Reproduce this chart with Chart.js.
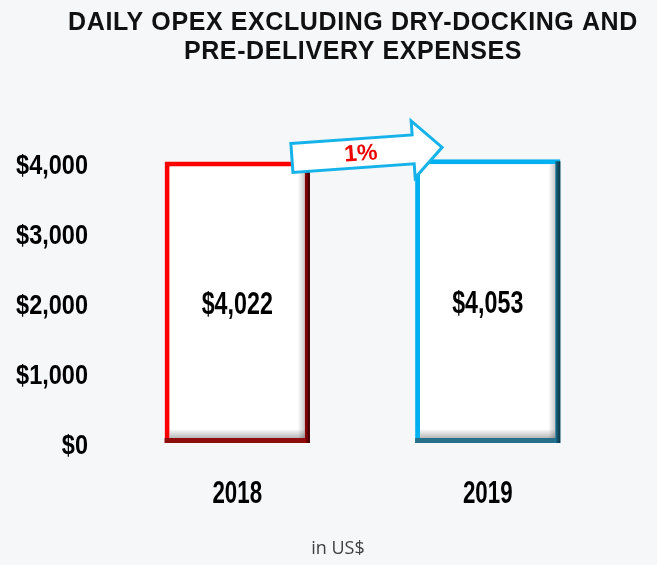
<!DOCTYPE html>
<html>
<head>
<meta charset="utf-8">
<script src="https://cdn.jsdelivr.net/npm/chart.js@4"></script>
<style>
  html, body { margin: 0; padding: 0; background: #f6f7f9; }
  #wrap { width: 657px; height: 565px; }
</style>
</head>
<body>
<div id="wrap"><canvas id="c" width="657" height="565"></canvas></div>
<script>
// ---- data ----
const titleLines = ['DAILY OPEX EXCLUDING DRY-DOCKING AND', 'PRE-DELIVERY EXPENSES'];
const categories = ['2018', '2019'];
const opexValues = [4022, 4053];
const yTickValues = [0, 1000, 2000, 3000, 4000];
const changeLabel = '1%';
const unitNote = 'in US$';

// ---- styles ----
const BOLD = "'Liberation Sans', Arial, sans-serif";
const barBorder = ['#ff0000', '#00b0f0'];
const barDarkRight = [['#9a0000', '#300000'], ['#1a6a88', '#0b3142']];
const barDarkBottom = ['#8e0c0c', '#26708a'];

const fmt = v => '$' + Number(v).toLocaleString('en-US');

// narrow text: real canvas text squeezed horizontally
function narrowText(ctx, text, x, y, size, sx, align) {
  ctx.save();
  ctx.font = 'bold ' + size + 'px ' + BOLD;
  ctx.textBaseline = 'middle';
  ctx.textAlign = align;
  ctx.translate(x, y);
  ctx.scale(sx, 1);
  ctx.fillStyle = '#000';
  ctx.fillText(text, 0, 0);
  ctx.restore();
}

const bgPlugin = {
  id: 'bg',
  beforeDraw(chart) {
    const ctx = chart.ctx;
    ctx.save();
    ctx.fillStyle = '#f6f7f9';
    ctx.fillRect(0, 0, chart.width, chart.height);
    ctx.restore();
  }
};

const decorPlugin = {
  id: 'decor',
  afterDatasetsDraw(chart) {
    const ctx = chart.ctx;
    const meta = chart.getDatasetMeta(0);
    const bw = 5;
    meta.data.forEach((el, i) => {
      const p = el.getProps(['x', 'y', 'base', 'width'], true);
      const left = p.x - p.width / 2, right = p.x + p.width / 2;
      const top = p.y, bottom = p.base, h = bottom - top;
      ctx.save();
      let g = ctx.createLinearGradient(0, bottom - bw - 9, 0, bottom - bw);
      g.addColorStop(0, 'rgba(0,0,0,0)');
      g.addColorStop(1, 'rgba(0,0,0,0.28)');
      ctx.fillStyle = g;
      ctx.fillRect(left + bw, bottom - bw - 9, p.width - 2 * bw, 9);
      g = ctx.createLinearGradient(right - bw - 7, 0, right - bw, 0);
      g.addColorStop(0, 'rgba(0,0,0,0)');
      g.addColorStop(1, 'rgba(0,0,0,0.22)');
      ctx.fillStyle = g;
      ctx.fillRect(right - bw - 7, top + bw, 7, h - 2 * bw);
      g = ctx.createLinearGradient(right - bw, 0, right, 0);
      g.addColorStop(0, barDarkRight[i][0]);
      g.addColorStop(1, barDarkRight[i][1]);
      ctx.fillStyle = g;
      ctx.fillRect(right - bw, top + 2, bw, h - 2);
      ctx.fillStyle = barDarkBottom[i];
      ctx.fillRect(left, bottom - bw, p.width - bw, bw);
      ctx.restore();
      // value label
      narrowText(ctx, fmt(opexValues[i]), p.x, (top + bottom) / 2 + 3, 31, 0.75, 'center');
    });

    // change arrow between the two bars
    const b0 = meta.data[0].getProps(['x', 'y', 'width'], true);
    const b1 = meta.data[1].getProps(['x', 'y', 'width'], true);
    const x0 = b0.x + b0.width / 2 - 18, y0 = b0.y - 3.5;
    const x1 = b1.x - b1.width / 2 + 27, y1 = b1.y - 12;
    const L = Math.hypot(x1 - x0, y1 - y0);
    const ang = Math.atan2(y1 - y0, x1 - x0);
    const bh = 14.5, hh = 28.5, hl = 29;
    ctx.save();
    ctx.translate(x0, y0);
    ctx.rotate(ang);
    ctx.beginPath();
    ctx.moveTo(0, -bh);
    ctx.lineTo(L - hl, -bh);
    ctx.lineTo(L - hl, -hh);
    ctx.lineTo(L, 0);
    ctx.lineTo(L - hl, hh);
    ctx.lineTo(L - hl, bh);
    ctx.lineTo(0, bh);
    ctx.closePath();
    ctx.fillStyle = '#ffffff';
    ctx.fill();
    ctx.lineWidth = 3;
    ctx.lineJoin = 'miter';
    ctx.strokeStyle = '#16b3ea';
    ctx.stroke();
    ctx.fillStyle = '#ee0000';
    ctx.font = "bold 23px " + BOLD;
    ctx.textAlign = 'center';
    ctx.textBaseline = 'middle';
    ctx.fillText(changeLabel, 69, 1);
    ctx.restore();
  },
  afterDraw(chart) {
    const ctx = chart.ctx;
    const xs = chart.scales.x, ys = chart.scales.y;
    // y axis tick labels
    ys.ticks.forEach(t => {
      narrowText(ctx, fmt(t.value), 88, ys.getPixelForValue(t.value) + 3, 28, 0.84, 'right');
    });
    // x axis category labels
    categories.forEach((c, i) => {
      narrowText(ctx, c, xs.getPixelForTick(i), ys.bottom + 51, 31, 0.72, 'center');
    });
    ctx.save();
    // title
    ctx.fillStyle = '#111111';
    ctx.font = "bold 25px " + BOLD;
    ctx.textAlign = 'center';
    ctx.textBaseline = 'alphabetic';
    try { ctx.letterSpacing = '0.6px'; } catch (e) {}
    ctx.fillText(titleLines[0], 353, 30);
    ctx.fillText(titleLines[1], 353, 59);
    try { ctx.letterSpacing = '0px'; } catch (e) {}
    // unit note
    ctx.fillStyle = '#404040';
    ctx.font = "18px 'Open Sans', sans-serif";
    ctx.textBaseline = 'middle';
    ctx.fillText(unitNote, 338, 549);
    ctx.restore();
  }
};

new Chart(document.getElementById('c'), {
  type: 'bar',
  data: {
    labels: categories,
    datasets: [{
      data: opexValues,
      backgroundColor: '#ffffff',
      borderColor: barBorder,
      borderWidth: 5,
      borderSkipped: false,
      barPercentage: 0.58,
      categoryPercentage: 1
    }]
  },
  options: {
    responsive: false,
    animation: false,
    layout: { padding: { top: 135, right: 44, bottom: 122, left: 112 } },
    plugins: {
      legend: { display: false },
      tooltip: { enabled: false },
      title: { display: false }
    },
    scales: {
      x: { display: false },
      y: {
        display: false,
        min: 0,
        max: 4400,
        afterBuildTicks: s => { s.ticks = yTickValues.map(v => ({ value: v })); }
      }
    }
  },
  plugins: [bgPlugin, decorPlugin]
});
</script>
</body>
</html>
